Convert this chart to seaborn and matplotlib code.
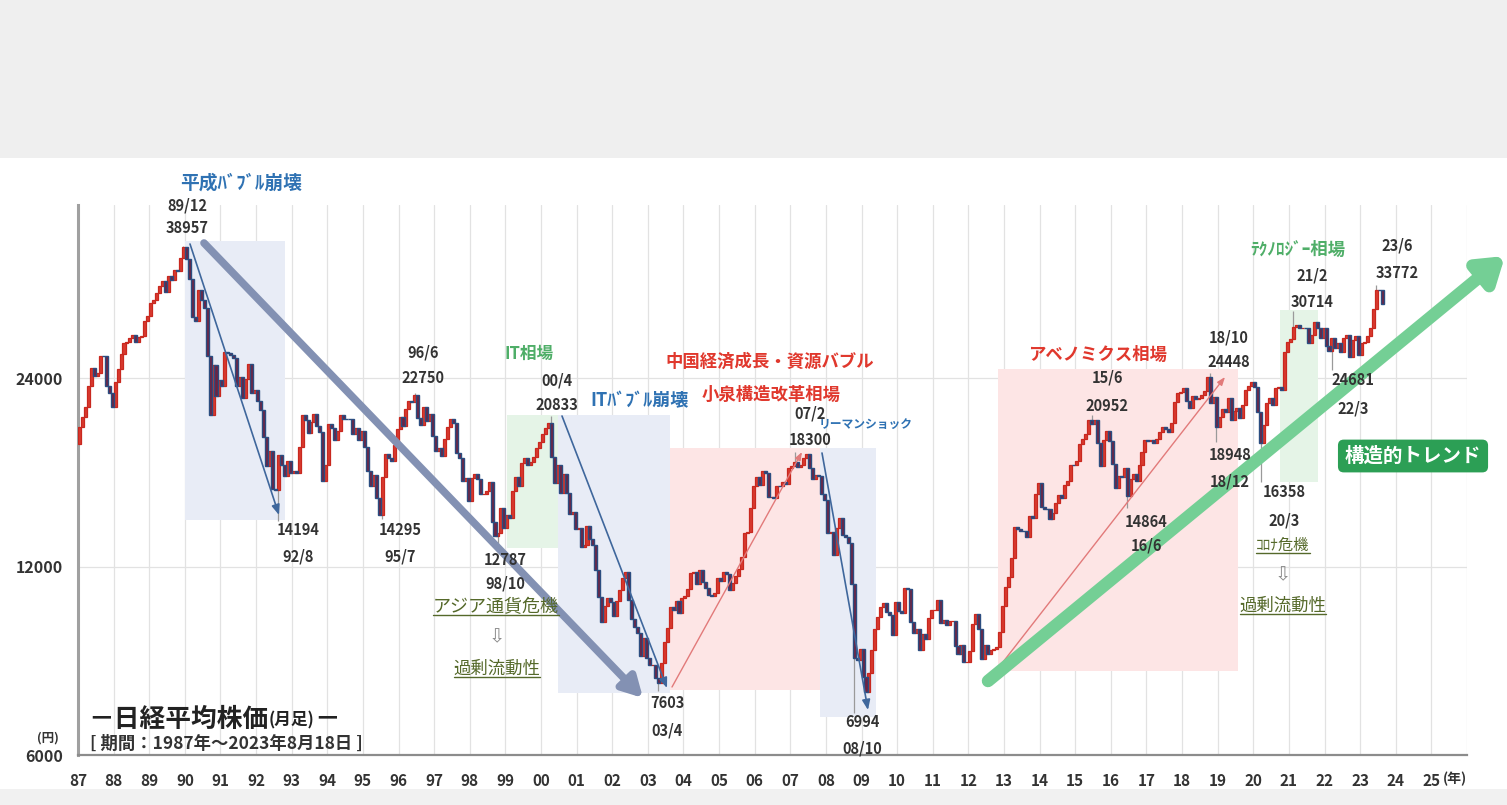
import numpy as np
import pandas as pd
import matplotlib
matplotlib.use("Agg")
import matplotlib.pyplot as plt
import seaborn as sns
from matplotlib.patches import Rectangle
from matplotlib.lines import Line2D
from matplotlib.ticker import NullLocator

# ---------------- data (Nikkei 225 monthly closes) ----------------
first_open = 18820
close_1987_1999 = [
    20048, 20766, 21567, 23274, 24901, 24176, 24488, 26029, 26011, 23329, 22687, 21564,
    23622, 24802, 26260, 27256, 27417, 27769, 28088, 27367, 27923, 27982, 29579, 30159,
    31581, 31986, 32839, 33714, 34266, 32949, 34954, 34431, 35636, 35549, 37268, 38916,
    37189, 34592, 29980, 29584, 33131, 31940, 31036, 25978, 20984, 25194, 22455, 23849,
    23293, 26409, 26292, 26111, 25790, 23291, 24121, 22336, 23916, 25222, 22688, 22984,
    22023, 21339, 19346, 17391, 18348, 15952, 15910, 18061, 17399, 16768, 17684, 16925,
    17024, 16953, 18591, 20919, 20552, 19591, 20380, 21027, 20106, 19703, 16408, 17417,
    20229, 19997, 19112, 19725, 20974, 20644, 20642, 20629, 19564, 19990, 19076, 19723,
    18650, 17054, 16140, 16807, 15437, 14517, 16678, 18117, 17913, 17655, 18744, 19868,
    20813, 20125, 21407, 22041, 21956, 22531, 20693, 20167, 21556, 20467, 21020, 19361,
    18330, 18557, 18003, 19151, 20069, 20605, 20331, 18229, 17888, 16458, 16636, 15258,
    16628, 16831, 16527, 15641, 15671, 15830, 16379, 14108, 13406, 13565, 14883, 13842,
    14499, 14368, 15837, 16701, 16112, 17530, 17862, 17437, 17605, 17942, 18558, 18934,
]
close_2000_2011 = [
    19540, 19960, 20337, 17974, 16332, 17411, 15727, 16861, 15747, 14539, 14649, 13786,
    13843, 12884, 12999, 13934, 13262, 12969, 11861, 10714, 9775, 10367, 10697, 10543,
    9998, 10588, 11025, 11493, 11764, 10622, 9877, 9620, 9383, 8640, 9216, 8579,
    8340, 8363, 7973, 7831, 8425, 9083, 9563, 10344, 10219, 10560, 10101, 10677,
    10784, 11042, 11715, 11762, 11236, 11859, 11326, 11082, 10824, 10771, 10899, 11489,
    11388, 11741, 11669, 11009, 11277, 11584, 11900, 12414, 13574, 13607, 14872, 16111,
    16650, 16205, 17060, 16906, 15467, 15505, 15457, 16141, 16128, 16400, 16274, 17226,
    17383, 17604, 17288, 17400, 17876, 18138, 17249, 16569, 16786, 16737, 15681, 15308,
    13592, 13603, 12526, 13850, 14338, 13481, 13377, 13073, 11260, 8577, 8512, 8860,
    7994, 7568, 8110, 8828, 9523, 9958, 10357, 10493, 10133, 10035, 9345, 10546,
    10198, 10126, 11090, 11057, 9769, 9383, 9537, 8824, 9369, 9202, 9937, 10229,
    10238, 10624, 9755, 9850, 9694, 9816, 9833, 8955, 8700, 8988, 8435, 8455,
]
close_2012_2023 = [
    8803, 9723, 10084, 9521, 8543, 9007, 8695, 8840, 8870, 8928, 9446, 10395,
    11139, 11559, 12398, 13861, 13775, 13677, 13668, 13389, 14456, 14328, 15662, 16291,
    14915, 14841, 14828, 14304, 14632, 15162, 15621, 15425, 16174, 16414, 17460, 17451,
    17674, 18798, 19207, 19520, 20563, 20236, 20585, 18890, 17388, 19083, 19747, 19034,
    17518, 16027, 16759, 16666, 17235, 15576, 16569, 16887, 16450, 17425, 18308, 19114,
    19041, 19119, 18909, 19197, 19651, 20033, 19925, 19646, 20356, 22012, 22725, 22765,
    23098, 22068, 21454, 22468, 22202, 22305, 22554, 22865, 24120, 21920, 22351, 20015,
    20773, 21385, 21206, 22259, 20601, 21276, 21522, 20704, 21756, 22927, 23294, 23657,
    23205, 21143, 18917, 20194, 21878, 22288, 21710, 23140, 23185, 22977, 26434, 27444,
    27663, 28966, 29179, 28813, 28860, 28792, 27284, 28090, 29453, 28893, 27822, 28792,
    27002, 26527, 27821, 26848, 27280, 26393, 27802, 28092, 25937, 27587, 27969, 26095,
    27327, 27446, 28041, 28856, 30888, 33189, 33172, 31451,
]

high_months = ["1989-12", "1996-06", "2000-04", "2007-02", "2015-06", "2018-10", "2021-02", "2023-06"]
high_values = [38957, 22750, 20833, 18300, 20952, 24448, 30714, 33772]
low_months = ["1992-08", "1995-07", "1998-10", "2003-04", "2008-10", "2016-06", "2018-12", "2020-03", "2022-03"]
low_values = [14194, 14295, 12787, 7603, 6994, 14864, 18948, 16358, 24681]

year_ticks = list(range(1987, 2027))
year_labels = [f"{y % 100:02d}" for y in range(1987, 2026)] + [""]
price_ticks = [6000, 12000, 24000]

# ---------------- layout helpers (reference pixel -> data) ----------------
W, H = 1507, 805
def X(px):
    return 1987 + (px - 78) / 35.615
def Y(py):
    return 24000 * 2 ** ((378 - py) / 188.5)

sns.set_theme(style="white")
plt.rcParams['font.family'] = ['Noto Sans CJK JP', 'DejaVu Sans']

fig = plt.figure(figsize=(W / 100, H / 100), dpi=100)
fig.patch.set_facecolor('white')
fig.patches.append(Rectangle((0, 1 - 158 / H), 1, 158 / H, transform=fig.transFigure,
                             facecolor='#efefef', edgecolor='none', zorder=-10))
fig.patches.append(Rectangle((0, 0), 1, 16 / H, transform=fig.transFigure,
                             facecolor='#f1f1f1', edgecolor='none', zorder=-10))

ax = fig.add_axes([78 / W, 50 / H, 1389 / W, 550 / H])
ax.set_facecolor('none')
ax.set_yscale('log', base=2)
ax.set_xlim(1987, 2026)
ax.set_ylim(6000, Y(205))

# grid / axes
ax.set_xticks(year_ticks)
ax.set_xticklabels(year_labels, fontsize=11, fontweight='bold', color='#333333')
ax.set_yticks(price_ticks)
ax.set_yticklabels([str(v) for v in price_ticks], fontsize=11.5, fontweight='bold', color='#333333')
ax.yaxis.set_minor_locator(NullLocator())
ax.xaxis.set_minor_locator(NullLocator())
ax.grid(True, axis='both', color='#e2e2e2', lw=0.9, zorder=0)
ax.tick_params(axis='x', direction='inout', length=6, width=1, color='#888888', pad=10)
ax.tick_params(axis='y', direction='out', length=5, width=1, color='#888888', pad=6)
for s in ['top', 'right']:
    ax.spines[s].set_visible(False)
ax.spines['left'].set_color('#a0a0a0')
ax.spines['left'].set_linewidth(2.2)
ax.spines['bottom'].set_color('#8c8c8c')
ax.spines['bottom'].set_linewidth(1.6)
ax.text(X(1443), Y(779), "(年)", fontsize=10, fontweight='bold', color='#333333',
        ha='left', va='center', clip_on=False)
ax.text(X(48), Y(738), "(円)", fontsize=9, fontweight='bold', color='#333333',
        ha='center', va='center', clip_on=False)

# ---------------- shaded regions ----------------
blue_bg, pink_bg, green_bg = '#e8ecf6', '#fde5e5', '#e5f4e7'
regions = [
    (185, 285, 241, 520, blue_bg),
    (507, 558, 415, 548, green_bg),
    (558, 670, 415, 693, blue_bg),
    (670, 820, 448, 690, pink_bg),
    (820, 876, 448, 717, blue_bg),
    (998, 1238, 369, 671, pink_bg),
    (1280, 1318, 310, 482, green_bg),
]
for x0, x1, y0, y1, c in regions:
    ax.add_patch(Rectangle((X(x0), Y(y1)), X(x1) - X(x0), Y(y0) - Y(y1),
                           facecolor=c, edgecolor='none', zorder=1))

# ---------------- candles ----------------
closes = np.array(close_1987_1999 + close_2000_2011 + close_2012_2023, dtype=float)
opens = np.concatenate([[first_open], closes[:-1]])
t = 1987 + (np.arange(len(closes)) + 0.5) / 12
df = pd.DataFrame({"t": t, "open": opens, "close": closes})
df["up"] = df["close"] >= df["open"]
up = df[df.up]
dn = df[~df.up]
ax.bar(up.t, up.close - up.open, bottom=up.open, width=0.085,
       color='#d93a2f', edgecolor='#c8281f', lw=0.9, zorder=4)
ax.bar(dn.t, dn.close - dn.open, bottom=dn.open, width=0.085,
       color='#6e2342', edgecolor='#2b4d80', lw=1.0, zorder=4)

def mtime(s):
    y, m = s.split('-')
    return int(y) + (int(m) - 1 + 0.5) / 12

for m, v in zip(high_months, high_values):
    row = df.iloc[(np.abs(df.t - mtime(m))).argmin()]
    ax.vlines(mtime(m), max(row.open, row.close), v, color='#9a9a9a', lw=0.9, zorder=3)
for m, v in zip(low_months, low_values):
    row = df.iloc[(np.abs(df.t - mtime(m))).argmin()]
    ax.vlines(mtime(m), v, min(row.open, row.close), color='#9a9a9a', lw=0.9, zorder=3)

# ---------------- arrows ----------------
def arrow(p0, p1, color, lw, hw, hl, z=5, alpha=1.0):
    ax.annotate("", xy=(X(p1[0]), Y(p1[1])), xytext=(X(p0[0]), Y(p0[1])),
                arrowprops=dict(arrowstyle=f"-|>,head_width={hw},head_length={hl}",
                                color=color, lw=lw, shrinkA=0, shrinkB=0, alpha=alpha),
                zorder=z, annotation_clip=False)

arrow((204, 243), (643, 698), '#8391b3', 5.5, 0.55, 1.0, z=6)
arrow((190, 244), (279, 515), '#3f679c', 1.2, 0.2, 0.5)
arrow((562, 416), (667, 688), '#3f679c', 1.2, 0.2, 0.5)
arrow((672, 687), (802, 452), '#e27a7a', 1.0, 0.15, 0.4)
arrow((822, 453), (868, 710), '#3f679c', 1.2, 0.2, 0.5)
arrow((1003, 662), (1225, 377), '#e27a7a', 1.0, 0.15, 0.4)
arrow((988, 681), (1505, 256), '#74cf95', 9, 0.8, 1.2, z=6)

# ---------------- high / low labels ----------------
high_px = [(187, 228, 205), (423, 378, 352), (557, 405, 380), (810, 440, 413),
           (1107, 406, 377), (1229, 362, 337), (1312, 302, 275), (1397, 273, 245)]
low_px = [(298, 530, 556), (400, 530, 556), (505, 560, 583), (667, 703, 730),
          (862, 722, 748), (1146, 522, 545), (1230, 455, 481), (1284, 492, 520),
          (1353, 380, 408)]

def date_label(m):
    y, mo = m.split('-')
    return f"{y[2:]}/{int(mo)}"

for (m, v), (px, pv, pd_) in zip(zip(high_months + low_months, high_values + low_values),
                                 high_px + low_px):
    ax.text(X(px), Y(pv), f"{v}", fontsize=10.5, fontweight='bold', color='#333333',
            ha='center', va='center', zorder=8, clip_on=False)
    ax.text(X(px), Y(pd_), date_label(m), fontsize=10.5, fontweight='bold', color='#333333',
            ha='center', va='center', zorder=8, clip_on=False)

# ---------------- theme texts ----------------
blue_t, red_t, green_t, olive_t = '#2f72b3', '#e0382d', '#4fae68', '#55692a'
themes = [
    ("平成ﾊﾞﾌﾞﾙ崩壊", 241, 183, 13.5, blue_t),
    ("IT相場", 529, 354, 12, green_t),
    ("ITﾊﾞﾌﾞﾙ崩壊", 639, 401, 13, blue_t),
    ("中国経済成長・資源バブル", 770, 362, 12.5, red_t),
    ("小泉構造改革相場", 771, 395, 12.5, red_t),
    ("リーマンショック", 866, 424, 8.5, blue_t),
    ("アベノミクス相場", 1098, 355, 12.5, red_t),
    ("ﾃｸﾉﾛｼﾞｰ相場", 1298, 250, 12.5, green_t),
]
for s, px, py, fs, c in themes:
    ax.text(X(px), Y(py), s, fontsize=fs, fontweight='bold', color=c,
            ha='center', va='center', zorder=8, clip_on=False)

underlined = []
for s, px, py, fs in [("アジア通貨危機", 496, 607, 13), ("過剰流動性", 497, 669, 12.5),
                      ("ｺﾛﾅ危機", 1283, 545, 11), ("過剰流動性", 1283, 606, 12.5)]:
    underlined.append(ax.text(X(px), Y(py), s, fontsize=fs, color=olive_t,
                              ha='center', va='center', zorder=8, clip_on=False))
for px, py in [(497, 637), (1283, 575)]:
    ax.text(X(px), Y(py), "⇩", fontsize=14, color='#8a8a8a', ha='center', va='center',
            zorder=8, family=['DejaVu Sans'])

ax.text(X(1413), Y(456), "構造的トレンド", fontsize=14, fontweight='bold', color='white',
        ha='center', va='center', zorder=9, clip_on=False,
        bbox=dict(boxstyle='round,pad=0.35,rounding_size=0.3', facecolor='#2c9f55',
                  edgecolor='none'))

# ---------------- title ----------------
t1 = ax.text(X(88), Y(719), "－日経平均株価", fontsize=18.5, fontweight='bold', color='#222222',
             ha='left', va='center', zorder=9)
t2 = ax.annotate("(月足)", xy=(1, 0.12), xycoords=t1, fontsize=12, fontweight='bold',
                 color='#222222', ha='left', va='bottom', zorder=9)
ax.annotate("－", xy=(1, 0), xycoords=(t2, t1),
            fontsize=18.5, fontweight='bold', color='#222222', ha='left', va='bottom', zorder=9)
ax.text(X(90), Y(744), "[ 期間：1987年～2023年8月18日 ]", fontsize=12.5, fontweight='bold',
        color='#333333', ha='left', va='center', zorder=9)

# underlines
fig.canvas.draw()
for tx in underlined:
    bb = tx.get_window_extent()
    yy = (bb.y0 + 1) / H
    fig.add_artist(Line2D([bb.x0 / W, bb.x1 / W], [yy, yy], transform=fig.transFigure,
                          color=olive_t, lw=1.0))

fig.savefig("out.png", dpi=100, facecolor=fig.get_facecolor())
